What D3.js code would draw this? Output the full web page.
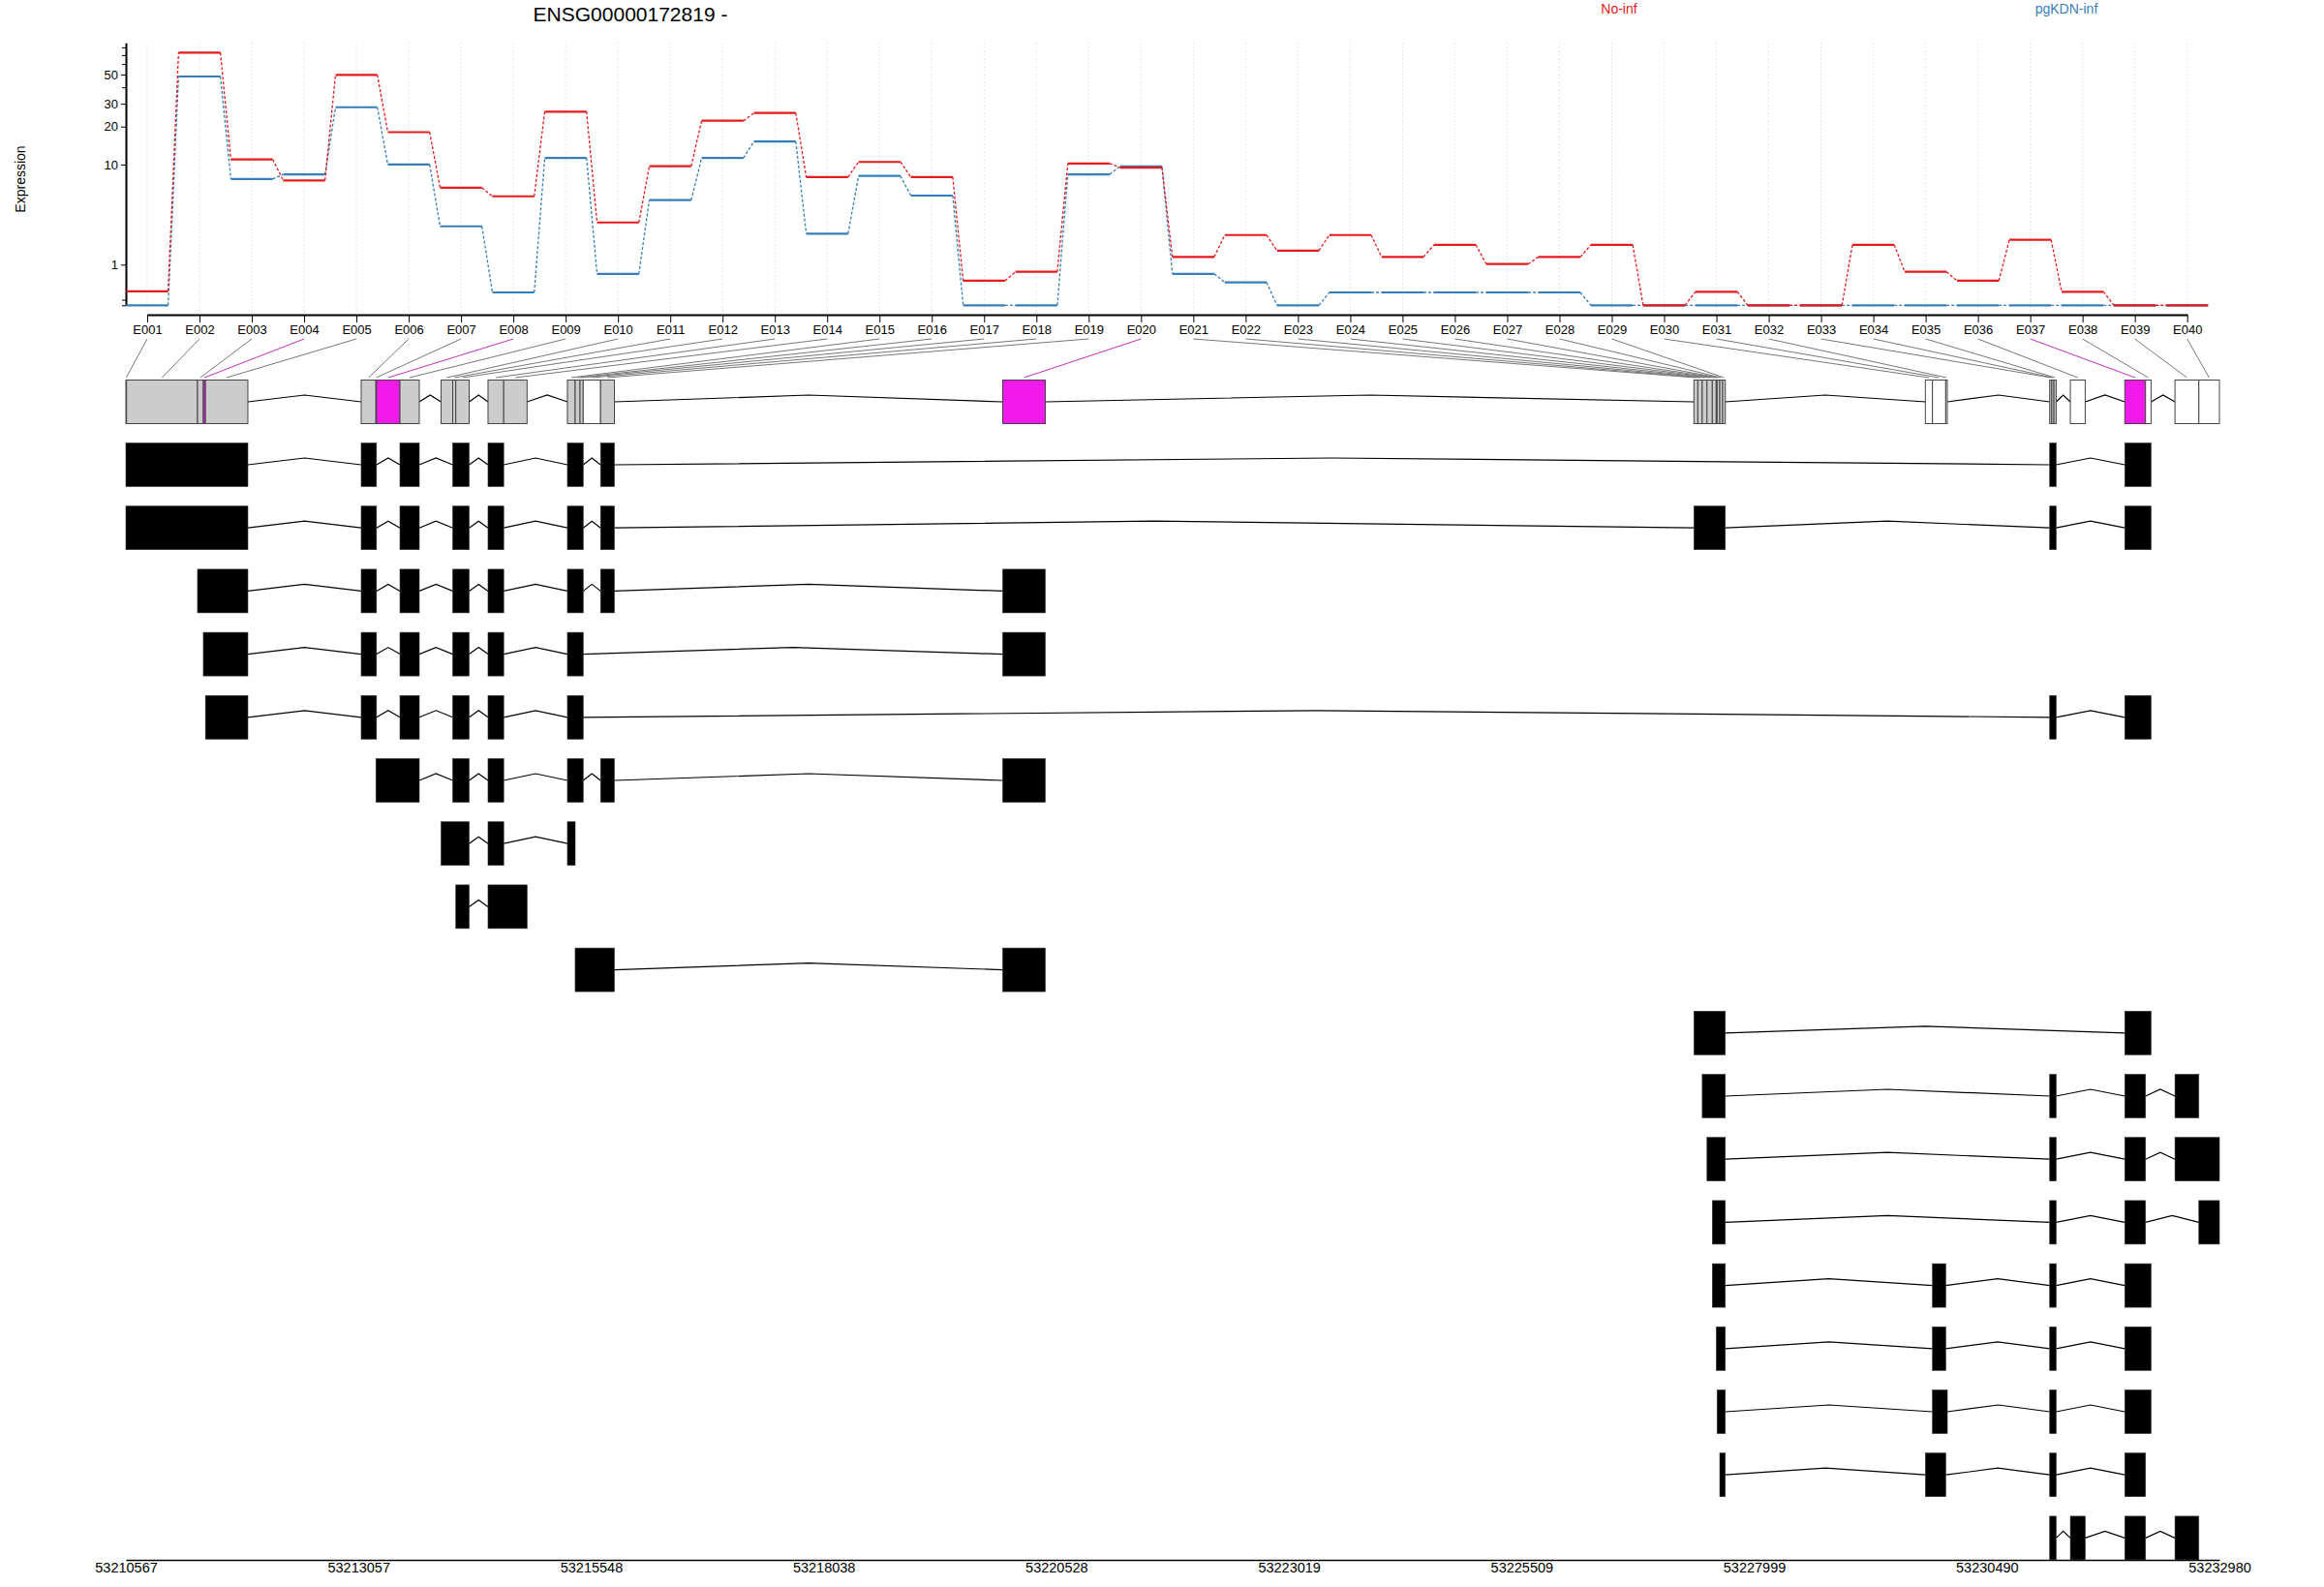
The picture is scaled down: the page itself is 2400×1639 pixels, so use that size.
<!DOCTYPE html>
<html><head><meta charset="utf-8">
<script src="https://cdn.jsdelivr.net/npm/d3@7"></script>
<style>
body{margin:0;background:#fff}
svg{display:block}
text{font-family:"Liberation Sans", Arial, Helvetica, sans-serif}
</style>
</head><body>
<svg id="c" width="2400" height="1639"></svg>
<script>
// ---------------- data ----------------
const title = "ENSG00000172819 -";
const conditions = ["No-inf", "pgKDN-inf"];
const condColors = ["#E41A1C", "#377EB8"];

const exonIds = ["E001","E002","E003","E004","E005","E006","E007","E008","E009","E010",
                 "E011","E012","E013","E014","E015","E016","E017","E018","E019","E020",
                 "E021","E022","E023","E024","E025","E026","E027","E028","E029","E030",
                 "E031","E032","E033","E034","E035","E036","E037","E038","E039","E040"];

const exonStart = [53210567,53210574,53211334,53211396,53211419,53213086,53213244,53213250,53213501,53213941,
                   53214066,53214099,53214444,53214612,53215294,53215377,53215429,53215463,53215649,53219954,
                   53227354,53227396,53227443,53227494,53227551,53227593,53227602,53227631,53227662,53229832,
                   53229908,53230050,53231163,53231185,53231208,53231384,53231967,53232189,53232504,53232760];
const exonEnd   = [53210574,53211334,53211396,53211419,53211873,53213244,53213250,53213501,53213708,53214066,
                   53214099,53214242,53214612,53214862,53215377,53215429,53215463,53215649,53215797,53220410,
                   53227396,53227443,53227494,53227551,53227593,53227602,53227631,53227662,53227690,53229908,
                   53230050,53230067,53231185,53231208,53231232,53231543,53232189,53232248,53232760,53232980];
// sig = significant (magenta), tested = grey, untested = white
const exonStatus = ["tested","tested","tested","sig","tested","tested","tested","sig","tested","tested",
                    "tested","tested","tested","tested","tested","tested","tested","untested","tested","sig",
                    "tested","tested","tested","tested","tested","tested","tested","tested","tested","untested",
                    "untested","untested","tested","tested","tested","untested","sig","untested","untested","untested"];

const exprNoInf  = [0.27,73,11.0,7.4,49.7,18.1,6.4,5.4,26.1,3.1,
                    9.7,22.2,25.5,7.9,10.5,7.9,0.52,0.77,10.2,9.45,
                    1.28,2.31,1.54,2.31,1.28,1.8,1.02,1.28,1.8,0,
                    0.26,0,0,1.8,0.77,0.52,2.05,0.26,0,0];
const exprPgKDN  = [0,48.3,7.6,8.3,28.2,10.0,2.84,0.245,11.3,0.71,
                    5.0,11.3,15.3,2.39,8.06,5.48,0,0,8.3,9.68,
                    0.71,0.48,0,0.245,0.245,0.245,0.245,0.245,0,0,
                    0,0,0,0,0,0,0,0,0,0];

// transcripts: exon numbers used by each transcript model
const transcripts = [
  [1,2,3,4,5,6,7,9,11,12,13,15,16,17,19,33,34,35,37,38],
  [1,2,3,4,5,6,7,9,11,12,13,15,16,17,19,21,22,23,24,25,26,27,28,29,33,34,35,37,38],
  [3,4,5,6,7,9,11,12,13,15,16,17,19,20],
  [4,5,6,7,9,11,12,13,15,16,17,20],
  [5,6,7,9,11,12,13,15,16,17,33,34,35,37,38],
  [7,8,9,11,12,13,15,16,17,19,20],
  [10,11,12,13,15],
  [12,13,14],
  [16,17,18,19,20],
  [21,22,23,24,25,26,27,28,29,37,38],
  [23,24,25,26,27,28,29,33,34,35,37,39],
  [24,25,26,27,28,29,33,34,35,37,39,40],
  [25,26,27,28,29,33,34,35,37,40],
  [25,26,27,28,29,31,33,34,35,37,38],
  [26,27,28,29,31,33,34,35,37,38],
  [27,28,29,31,32,33,34,35,37,38],
  [28,29,30,31,33,34,35,37],
  [33,34,35,36,37,39]
];

const yTickLabels = [1,10,20,30,50];
const yMinorTicks = [0,0.1,40,60,70,80];
const genomeTicks = [53210567,53213057,53215548,53218038,53220528,53223019,53225509,53227999,53230490,53232980];

// ---------------- drawing ----------------
const svg = d3.select("#c");
const statusFill = {sig:"#F219ED", tested:"#CCCCCC", untested:"#FFFFFF"};

const xg = d3.scaleLinear().domain([genomeTicks[0], genomeTicks[genomeTicks.length-1]]).range([130, 2292]);
const xe = d3.scalePoint().domain(exonIds).range([152, 2258.7]);
const y = d3.scaleSymlog().constant(1).domain([0, 86.4]).range([315.3, 44.3]);
const hw = xe.step() * 0.4;

// title & legend
svg.append("text").attr("x", 651).attr("y", 22).attr("text-anchor","middle")
   .attr("font-size", 21).text(title);
const legendX = [1672, 2134];
conditions.forEach((c,i) => {
  svg.append("text").attr("x", legendX[i]).attr("y", 14).attr("text-anchor","middle")
     .attr("font-size", 14).attr("fill", condColors[i]).text(c);
});

// y label
svg.append("text").attr("transform","translate(21,185) rotate(-90)")
   .attr("text-anchor","middle").attr("dominant-baseline","central")
   .attr("font-size", 14).text("Expression");

// vertical grid
svg.append("g").selectAll("line").data(exonIds).join("line")
  .attr("x1", d => xe(d)).attr("x2", d => xe(d))
  .attr("y1", 44).attr("y2", 325)
  .attr("stroke", "#ece2ec").attr("stroke-width", 1).attr("stroke-dasharray", "2,2");

// y axis
const yAxis = svg.append("g").attr("transform","translate(130,0)")
  .call(d3.axisLeft(y).tickValues(yTickLabels).tickFormat(d3.format("d")).tickSize(5).tickSizeOuter(0));
yAxis.select(".domain").attr("stroke-width", 2);
yAxis.selectAll("text").attr("font-size", 13).attr("font-family", "Liberation Sans, Arial, sans-serif");
svg.append("g").attr("transform","translate(130,0)")
  .call(d3.axisLeft(y).tickValues(yMinorTicks).tickFormat("").tickSize(4).tickSizeOuter(0))
  .select(".domain").remove();

// x axis (exon labels)
const xAxis = svg.append("g").attr("transform","translate(0,325)")
  .call(d3.axisBottom(xe).tickSize(8).tickSizeOuter(0));
xAxis.select(".domain").attr("stroke-width", 2);
xAxis.selectAll("text").attr("font-size", 13).attr("font-family", "Liberation Sans, Arial, sans-serif");

// expression lines (blue first, red on top)
const series = [
  {vals: exprPgKDN, color: condColors[1]},
  {vals: exprNoInf, color: condColors[0]}
];
series.forEach(s => {
  const g = svg.append("g");
  const pts = exonIds.map((id,i) => ({id, v: s.vals[i]}));
  g.selectAll("line.seg").data(pts).join("line").attr("class","seg")
    .attr("x1", d => xe(d.id) - hw).attr("x2", d => xe(d.id) + hw)
    .attr("y1", d => y(d.v)).attr("y2", d => y(d.v))
    .attr("stroke", s.color).attr("stroke-width", 2.2);
  const links = pts.slice(0, -1).map((d,i) => [d, pts[i+1]]);
  g.selectAll("line.con").data(links).join("line").attr("class","con")
    .attr("x1", d => xe(d[0].id) + hw).attr("x2", d => xe(d[1].id) - hw)
    .attr("y1", d => y(d[0].v)).attr("y2", d => y(d[1].v))
    .attr("stroke", s.color).attr("stroke-width", 1.3).attr("stroke-dasharray", "3,2");
});

// helper: merge contiguous exons into blocks
function toBlocks(nums) {
  const out = [];
  nums.forEach(k => {
    const s = exonStart[k-1], e = exonEnd[k-1];
    if (out.length && out[out.length-1][1] === s) out[out.length-1][1] = e;
    else out.push([s, e]);
  });
  return out;
}
function drawIntrons(g, blocks, mid) {
  const lineGen = d3.line();
  for (let i = 0; i < blocks.length - 1; i++) {
    const a = xg(blocks[i][1]), b = xg(blocks[i+1][0]);
    g.append("path").attr("d", lineGen([[a, mid], [(a+b)/2, mid - 7], [b, mid]]))
      .attr("fill","none").attr("stroke","#000").attr("stroke-width", 1.2);
  }
}

// connectors from exon labels to gene model
const allNums = exonIds.map((d,i) => i+1);
svg.append("g").selectAll("line").data(allNums).join("line")
  .attr("x1", k => xe(exonIds[k-1])).attr("y1", 350)
  .attr("x2", k => xg((exonStart[k-1] + exonEnd[k-1]) / 2)).attr("y2", 390)
  .attr("stroke", k => exonStatus[k-1] === "sig" ? "#C030C0" : "#777")
  .attr("stroke-width", 1);

// gene model
const gmTop = 392.5, boxH = 45;
const gm = svg.append("g");
drawIntrons(gm, toBlocks(allNums), gmTop + boxH/2);
gm.selectAll("rect").data(allNums).join("rect")
  .attr("x", k => xg(exonStart[k-1]))
  .attr("width", k => Math.max(0.5, xg(exonEnd[k-1]) - xg(exonStart[k-1])))
  .attr("y", gmTop).attr("height", boxH)
  .attr("fill", k => statusFill[exonStatus[k-1]])
  .attr("stroke", "#444").attr("stroke-width", 1);

// transcripts
const trTop = 457.5, trStep = 65.2;
transcripts.forEach((t, i) => {
  const g = svg.append("g");
  const top = trTop + i * trStep;
  const blocks = toBlocks(t);
  drawIntrons(g, blocks, top + boxH/2);
  g.selectAll("rect").data(blocks).join("rect")
    .attr("x", d => xg(d[0])).attr("width", d => xg(d[1]) - xg(d[0]))
    .attr("y", top).attr("height", boxH)
    .attr("fill", "#000").attr("stroke", "#333").attr("stroke-width", 0.6);
});

// genomic axis
const gAxis = svg.append("g").attr("transform","translate(0,1611)")
  .call(d3.axisBottom(xg).tickValues(genomeTicks).tickFormat(d3.format("d")).tickSize(0).tickPadding(3).tickSizeOuter(0));
gAxis.select(".domain").attr("stroke-width", 1.5);
gAxis.selectAll("text").attr("font-size", 14.5).attr("font-family", "Liberation Sans, Arial, sans-serif");
</script>
</body></html>
